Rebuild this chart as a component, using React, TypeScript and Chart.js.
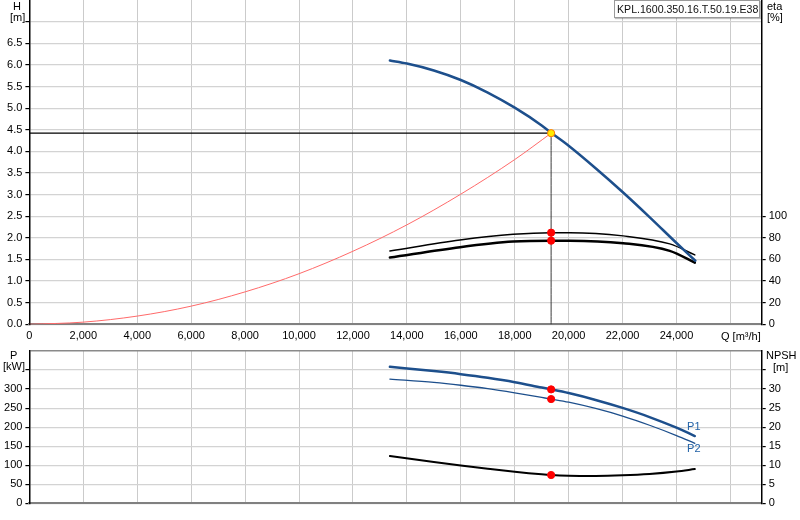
import { useEffect, useRef } from 'react';
import Chart from 'chart.js/auto';

// Pump curve sheet: head / efficiency on top, power / NPSH below, shared flow axis.
const FONT = '"Liberation Sans", Arial, Helvetica, sans-serif';
const BLUE = '#1d4f8c';
const LABEL_BLUE = '#2161a6';
const GRID = '#d3d3d3';
const AXIS_GREY = '#808080';

const Q_MAX = 27160;
const Q_TICKS = [0, 2000, 4000, 6000, 8000, 10000, 12000, 14000, 16000, 18000, 20000, 22000, 24000, 26000];
const H_TICKS = [0, 0.5, 1, 1.5, 2, 2.5, 3, 3.5, 4, 4.5, 5, 5.5, 6, 6.5, 7];
const ETA_TICKS = [0, 20, 40, 60, 80, 100];
const P_TICKS = [0, 50, 100, 150, 200, 250, 300, 350, 400];
const NPSH_TICKS = [0, 5, 10, 15, 20, 25, 30, 35];

// duty point
const Q_OP = 19350;
const H_OP = 4.42;
const ETA_OP = [84.8, 77.4];
const P_OP = [299.2, 273.8];
const NPSH_OP = 7.43;

// pump head curve
const H_Q = [13370, 14000, 15000, 16000, 17000, 18000, 19000, 19350, 20000, 21000, 22000, 23000, 24000, 24700];
const H_M = [6.1, 6.03, 5.87, 5.65, 5.36, 5.01, 4.6, 4.43, 4.13, 3.61, 3.06, 2.48, 1.88, 1.47];

// system curve
const SYS_Q = [0, 2000, 4000, 6000, 8000, 10000, 12000, 14000, 16000, 18000, 19350];
const SYS_H = [0, 0.05, 0.19, 0.42, 0.75, 1.17, 1.69, 2.3, 3.01, 3.81, 4.42];

// efficiency
const ETA_Q = [13370, 15970, 17940, 19350, 20040, 22020, 23750, 24680];
const ETA_1 = [67.9, 78.0, 83.3, 84.8, 84.8, 81.8, 74.4, 64.2];
const ETA_2 = [61.7, 71.3, 76.5, 77.4, 77.4, 75.0, 67.9, 57.0];

// power and NPSH
const LOW_Q = [13370, 15000, 16000, 17000, 18000, 19000, 19350, 20000, 21000, 22000, 23000, 24000, 24680];
const P_1 = [358.6, 347.2, 339.2, 329.7, 318.2, 304.0, 299.2, 289.5, 271.5, 250.5, 226.5, 198.5, 176.7];
const P_2 = [326.3, 317.5, 310.0, 301.0, 290.0, 278.0, 273.8, 265.5, 249.0, 229.0, 205.0, 178.0, 157.5];
const NPSH = [12.4, 10.85, 9.95, 9.1, 8.3, 7.62, 7.43, 7.25, 7.2, 7.35, 7.7, 8.35, 9.0];

const END_LABEL_OFFSET: Record<string, number> = { P1: -9, P2: 6 };

const xy = (qs: number[], vs: number[]) => qs.map((q, i) => ({ x: q, y: vs[i] }));

const curve = (data: { x: number; y: number }[], color: string, width: number, yAxisID = 'y') => ({
  data,
  yAxisID,
  borderColor: color,
  backgroundColor: color,
  borderWidth: width,
  pointRadius: 0,
  cubicInterpolationMode: 'monotone' as const,
  borderCapStyle: 'round' as const,
});

const dots = (data: { x: number; y: number }[], yAxisID: string, fill = '#ff0000', edge = '#ff0000') => ({
  data,
  yAxisID,
  showLine: false,
  pointRadius: 3.6,
  pointBackgroundColor: fill,
  pointBorderColor: edge,
  pointBorderWidth: 1,
});

const tickFont = { family: FONT, size: 11 };

const setTicks = (values: number[]) => (scale: any) => {
  scale.ticks = values.map((value) => ({ value }));
};

const fixWidth = (w: number) => (scale: any) => {
  scale.width = w;
  scale.paddingTop = 0;
  scale.paddingBottom = 0;
};

const fixHeight = (h: number) => (scale: any) => {
  scale.height = h;
  scale.paddingLeft = 0;
  scale.paddingRight = 0;
};

const endLabels = {
  id: 'endLabels',
  afterDatasetsDraw(chart: any) {
    const { ctx } = chart;
    chart.data.datasets.forEach((ds: any, i: number) => {
      const off = END_LABEL_OFFSET[ds.label];
      if (off === undefined) return;
      const pts = chart.getDatasetMeta(i).data;
      const last = pts[pts.length - 1];
      ctx.save();
      ctx.font = `11px ${FONT}`;
      ctx.fillStyle = LABEL_BLUE;
      ctx.textAlign = 'center';
      ctx.textBaseline = 'middle';
      ctx.fillText(ds.label, last.x - 1, last.y + off);
      ctx.restore();
    });
  },
};

const xAxis = (labels: boolean, height: number) => ({
  type: 'linear' as const,
  min: 0,
  max: Q_MAX,
  afterBuildTicks: setTicks(Q_TICKS),
  afterFit: fixHeight(height),
  ticks: {
    display: labels,
    color: '#000',
    font: tickFont,
    padding: 5,
    maxRotation: 0,
    callback: (v: number) => (v === 26000 ? '' : v.toLocaleString('en-US')),
  },
  grid: { color: '#cbcbcb', lineWidth: 1, drawTicks: false },
  border: { color: AXIS_GREY, width: 2 },
});

const yAxis = (
  position: 'left' | 'right',
  max: number,
  ticks: number[],
  label: (v: number) => string,
  width: number,
  onArea: boolean,
  topValue?: number,
) => ({
  type: 'linear' as const,
  position,
  min: 0,
  max,
  afterBuildTicks: setTicks(ticks),
  afterFit: fixWidth(width),
  ticks: { color: '#000', font: tickFont, padding: 3, callback: label },
  grid: {
    drawOnChartArea: onArea,
    tickLength: 4,
    color: (c: any) => (c.tick && c.tick.value === topValue ? '#8a8a8a' : GRID),
    lineWidth: (c: any) => (c.tick && c.tick.value === topValue ? 1.5 : 1.2),
    tickColor: (c: any) => (c.tick && c.tick.value === topValue ? 'rgba(0,0,0,0)' : '#000'),
  },
  border: { color: '#000', width: 1.5 },
});

const baseOptions = {
  responsive: false,
  animation: false as const,
  events: [],
  plugins: { legend: { display: false }, tooltip: { enabled: false } },
};

const unit: React.CSSProperties = {
  position: 'absolute',
  font: `11px ${FONT}`,
  color: '#000',
  lineHeight: '12px',
  whiteSpace: 'nowrap',
};

export default function App() {
  const topRef = useRef<HTMLCanvasElement | null>(null);
  const bottomRef = useRef<HTMLCanvasElement | null>(null);

  useEffect(() => {
    if (!topRef.current || !bottomRef.current) return;

    const head = new Chart(topRef.current, {
      type: 'line',
      data: {
        datasets: [
          dots([{ x: Q_OP, y: H_OP }], 'y', '#ffec00', '#ff7a00'),
          dots(ETA_OP.map((e) => ({ x: Q_OP, y: e })), 'eta'),
          curve(xy(H_Q, H_M), BLUE, 2.5),
          curve(xy(ETA_Q, ETA_1), '#000', 1.5, 'eta'),
          curve(xy(ETA_Q, ETA_2), '#000', 2.5, 'eta'),
          curve(xy(SYS_Q, SYS_H), '#ff6a6a', 1),
          curve([{ x: Q_OP, y: H_OP }, { x: Q_OP, y: 0 }], '#3a3a3a', 1),
          curve([{ x: 0, y: H_OP }, { x: Q_OP, y: H_OP }], '#000', 1.2),
        ],
      },
      options: {
        ...baseOptions,
        layout: { padding: 0, autoPadding: false },
        scales: {
          x: xAxis(true, 25.7),
          y: yAxis('left', 7.5, H_TICKS, (v) => (v >= 7 ? '' : v.toFixed(1)), 29.4, true),
          eta: yAxis('right', 300, ETA_TICKS, (v) => String(v), 38.3, false),
        },
      },
    } as any);

    const power = new Chart(bottomRef.current, {
      type: 'line',
      data: {
        datasets: [
          dots(P_OP.map((p) => ({ x: Q_OP, y: p })), 'y'),
          dots([{ x: Q_OP, y: NPSH_OP }], 'npsh'),
          { ...curve(xy(LOW_Q, P_1), BLUE, 2.5), label: 'P1' },
          { ...curve(xy(LOW_Q, P_2), BLUE, 1.3), label: 'P2' },
          curve(xy(LOW_Q, NPSH), '#000', 2, 'npsh'),
        ],
      },
      options: {
        ...baseOptions,
        layout: { padding: { top: 1, left: 0, right: 0, bottom: 0 }, autoPadding: false },
        scales: {
          x: xAxis(false, 16.7),
          y: yAxis('left', 400, P_TICKS, (v) => (v >= 350 ? '' : String(v)), 29.4, true, 400),
          npsh: yAxis('right', 40, NPSH_TICKS, (v) => (v >= 35 ? '' : String(v)), 38.3, false),
        },
      },
      plugins: [endLabels],
    } as any);

    return () => {
      head.destroy();
      power.destroy();
    };
  }, []);

  return (
    <div style={{ position: 'absolute', left: 0, top: 0, width: 800, height: 520, background: '#fff' }}>
      <canvas ref={topRef} width={800} height={350} style={{ position: 'absolute', left: 0, top: 0 }} />
      <canvas ref={bottomRef} width={800} height={170} style={{ position: 'absolute', left: 0, top: 350 }} />

      <div style={{ ...unit, left: 13, top: 0 }}>H</div>
      <div style={{ ...unit, left: 10, top: 11 }}>[m]</div>
      <div style={{ ...unit, left: 767, top: 0 }}>eta</div>
      <div style={{ ...unit, left: 767, top: 11 }}>[%]</div>
      <div style={{ ...unit, left: 721, top: 330 }}>Q [m³/h]</div>
      <div style={{ ...unit, left: 10, top: 349 }}>P</div>
      <div style={{ ...unit, left: 3, top: 360 }}>[kW]</div>
      <div style={{ ...unit, left: 766, top: 349 }}>NPSH</div>
      <div style={{ ...unit, left: 773, top: 361 }}>[m]</div>

      <div
        style={{
          position: 'absolute',
          left: 614,
          top: 0,
          width: 146,
          height: 18,
          boxSizing: 'border-box',
          border: '1px solid #9a9a9a',
          boxShadow: '1px 1px 1px rgba(0,0,0,0.25)',
          background: '#fff',
          font: `10.6px ${FONT}`,
          lineHeight: '16px',
          paddingLeft: 2,
          color: '#111',
          whiteSpace: 'nowrap',
          overflow: 'hidden',
        }}
      >
        KPL.1600.350.16.T.50.19.E38
      </div>
    </div>
  );
}
